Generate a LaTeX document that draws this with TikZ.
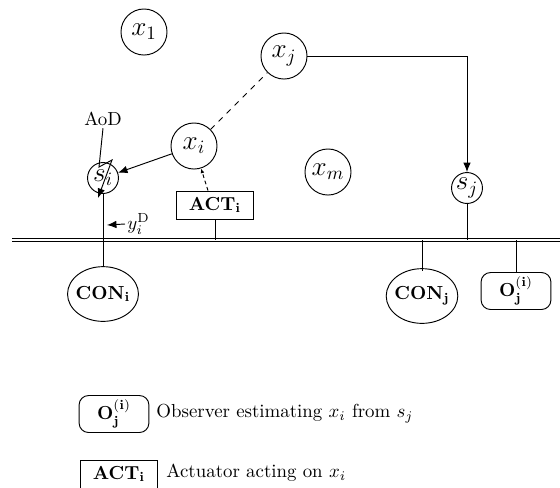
\documentclass[tikz,border=0pt]{standalone}
\usetikzlibrary{arrows.meta,shapes.geometric,calc}
\begin{document}
\begin{tikzpicture}[x=0.53pt,y=-0.53pt,
  state/.style={circle,draw,minimum size=24.4pt,inner sep=0pt,font=\Large},
  sens/.style={circle,draw,minimum size=16.4pt,inner sep=0pt,font=\Large},
  ctrl/.style={ellipse,draw,minimum width=37pt,minimum height=29pt,inner xsep=-1.2pt,inner ysep=0pt},
  obs/.style={draw,rounded corners=5pt,minimum width=37pt,minimum height=19.6pt,inner sep=0pt},
  actbox/.style={draw,minimum width=40.5pt,minimum height=14.8pt,inner sep=0pt},
  tip/.style={-{Latex[length=5pt,width=4pt]}},
  smalltip/.style={-{Latex[length=2.5pt,width=2pt]}},
  line width=0.5pt]
\useasboundingbox (0,0) rectangle (560,487);
\clip (0,0) rectangle (560,487);
% states
\node[state] (x1) at (144,32) {$x_1$};
\node[state] (xj) at (284,56) {$x_j$};
\node[state] (xi) at (194,146) {$x_i$};
\node[state] (xm) at (328,172) {$x_m$};
% sensors
\node[sens] (si) at (103,178) {$s_i$};
\node[sens] (sj) at (467,188) {$s_j$};
% actuator
\node[actbox] (act) at (215,205) {$\mathbf{ACT_i}$};
% controllers and observer
\node[ctrl] (coni) at (103,294) {$\mathbf{CON_i}$};
\node[ctrl] (conj) at (422,296) {$\mathbf{CON_j}$};
\node[obs] (obsj) at (516,291) {$\mathbf{O_j^{(i)}}$};
% bus
\coordinate (busL) at (12,240);
\coordinate (busR) at (565,240);
\draw[double,double distance=1.3pt] (busL) -- (busR);
% bus connections
\draw (si.south) -- (coni.north);
\draw (act.south) -- (act.south |- busL);
\draw (sj.south) -- (sj.south |- busL);
\coordinate (conjtop) at ($(conj.north)+(0,3)$);
\draw (conjtop |- busL) -- (conjtop);
\draw (obsj.north |- busL) -- (obsj.north);
% arrows between states
\draw[dashed] (xi) -- (xj);
\draw[tip] (xi) -- (si);
\draw[tip] (xj.east) -| (sj.north);
\coordinate (actup) at ($(act.north)+(-7,0)$);
\draw[dash pattern=on 2pt off 1.5pt,smalltip] (actup) -- (xi);
% measurement label
\node[anchor=west,inner sep=1pt] (yid) at (125,224) {$y_i^{\mathrm{D}}$};
\coordinate (ytip) at (107,225);
\draw[tip] (yid.west) -- (ytip);
% AoD
\node[inner sep=1pt] (aod) at (103,119) {AoD};
\coordinate (z1) at (99,167);
\coordinate (z2) at (112,160);
\coordinate (z3) at (98,198);
\draw[tip] (aod.south) -- (z1) -- (z2) -- (z3);
% legend
\node[obs] (legO) at (114,414) {$\mathbf{O_j^{(i)}}$};
\node[anchor=west,inner sep=0pt] (legOt) at (156,414) {Observer estimating $x_i$ from $s_j$};
\node[actbox] (legA) at (119,474) {$\mathbf{ACT_i}$};
\node[anchor=west,inner sep=0pt] (legAt) at (166,473) {Actuator acting on $x_i$};
\end{tikzpicture}
\end{document}
